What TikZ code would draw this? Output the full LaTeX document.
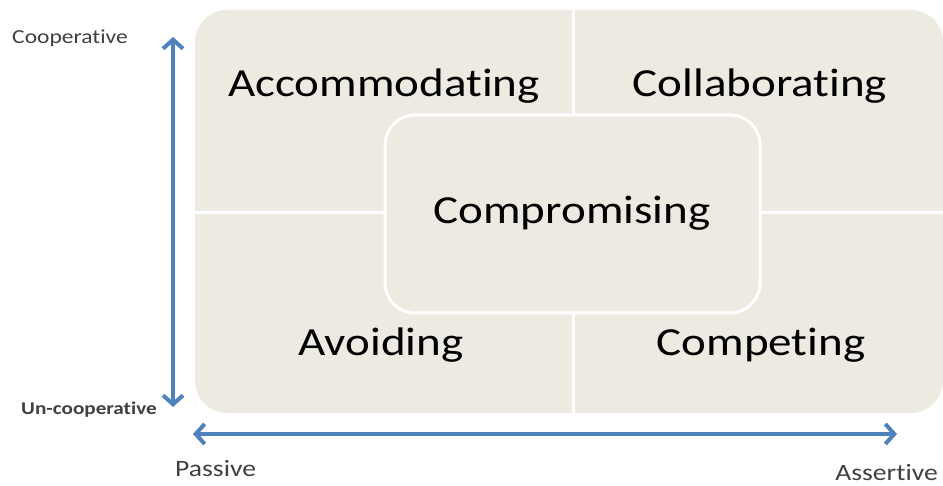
\documentclass[tikz,border=0pt]{standalone}
\usepackage{fontspec}
\setmainfont{Carlito}[Ligatures={NoCommon}]
\usetikzlibrary{arrows.meta}
\definecolor{panel}{RGB}{236,234,225}
\definecolor{axisblue}{RGB}{79,129,189}
\definecolor{labelgray}{RGB}{64,64,64}
\tikzset{
  big/.style={font=\fontsize{40}{44}\selectfont, text=black, inner sep=0pt, xscale=1.18},
  small/.style={font=\fontsize{20}{24}\selectfont, text=labelgray, inner sep=0pt, xscale=1.18},
  axislabel/.style={font=\fontsize{23.5}{26}\selectfont, text=labelgray, inner sep=0pt, xscale=1.18},
  axis/.style={draw=axisblue, line width=4bp, {Straight Barb[length=9bp,width=20bp]}-{Straight Barb[length=9bp,width=20bp]}},
  divider/.style={draw=white, line width=3bp},
}
\begin{document}
\begin{tikzpicture}[x=1bp,y=-1bp]
\useasboundingbox (0,0) rectangle (943,486);
% background panel
\fill[panel, rounded corners=32bp] (195,10) rectangle (943,413);
\draw[divider] (573,10) -- (573,413);
\draw[divider] (195,213) -- (943,213);
% centre box
\draw[white, line width=3bp, fill=panel, rounded corners=30bp] (385,115) rectangle (760,313);
% quadrant texts
\node[big] (acc) at (384,86) {Accommodating};
\node[big] (col) at (760,86) {Collaborating};
\node[big] (com) at (572,213) {Compromising};
\node[big] (avo) at (381,345) {Avoiding};
\node[big] (cpt) at (761,345) {Competing};
% axis labels
\node[small, anchor=west] (coop) at (12,38) {Cooperative};
\node[small, anchor=west, font=\fontsize{18}{20}\bfseries] (unco) at (21,410) {Un-cooperative};
\node[axislabel, anchor=west] (pass) at (175,469) {Passive};
\node[axislabel, anchor=east] (asse) at (938,473) {Assertive};
% axes
\coordinate (vtop) at (173,37);
\coordinate (vbot) at (173,407);
\coordinate (hleft) at (193,434);
\coordinate (hright) at (897,434);
\draw[axis] (vtop) -- (vbot);
\draw[axis] (hleft) -- (hright);
\end{tikzpicture}
\end{document}
